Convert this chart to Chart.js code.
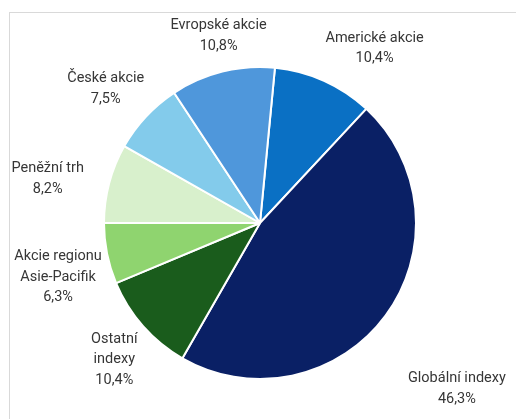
<!DOCTYPE html>
<html>
<head>
<meta charset="utf-8">
<script src="https://cdn.jsdelivr.net/npm/chart.js@4/dist/chart.umd.min.js"></script>
<style>
  body { margin: 0; background: #ffffff; }
  #wrap { position: relative; width: 516px; height: 419px; }
  #frame {
    position: absolute; left: 9px; top: 12px; right: 0; bottom: 0;
    border-left: 1px solid #d9d9d9; border-top: 1px solid #d9d9d9;
  }
  #pie { position: absolute; left: 0; top: 0; }
</style>
</head>
<body>
<div id="wrap">
  <div id="frame"></div>
  <canvas id="pie" width="516" height="419"></canvas>
</div>
<script>
// categories (clockwise from the top)
var categories = [
  ["Americké akcie"],
  ["Globální indexy"],
  ["Ostatní", "indexy"],
  ["Akcie regionu", "Asie-Pacifik"],
  ["Peněžní trh"],
  ["České akcie"],
  ["Evropské akcie"]
];
// share in %
var shares = [10.4, 46.3, 10.4, 6.3, 8.2, 7.5, 10.8];
var sliceColors = ["#0a70c4", "#0a2065", "#1a5c1c", "#8fd46f", "#d8f0cc", "#83cbeb", "#4f97db"];

// label placement tweaks (excel style callouts), angle shift in deg and radius factor
var labelShift = [9, 3.7, -1.7, -3.6, -3.1, -2.1, 1.5];
var labelDist = [1.34, 1.65, 1.28, 1.34, 1.39, 1.31, 1.23];

var outsideLabels = {
  id: "outsideLabels",
  afterDatasetsDraw: function(chart) {
    var ctx = chart.ctx;
    var meta = chart.getDatasetMeta(0);
    ctx.save();
    ctx.font = "14.5px Roboto";
    ctx.fillStyle = "#363636";
    ctx.textAlign = "center";
    ctx.textBaseline = "middle";
    meta.data.forEach(function(arc, i) {
      var p = arc.getProps(["x", "y", "startAngle", "endAngle", "outerRadius"], true);
      var mid = (p.startAngle + p.endAngle) / 2 + labelShift[i] * Math.PI / 180;
      var r = p.outerRadius * labelDist[i];
      var cx = p.x + Math.cos(mid) * r;
      var cy = p.y + Math.sin(mid) * r;
      var lines = categories[i].concat([shares[i].toFixed(1).replace(".", ",") + "%"]);
      var lh = 20.5;
      var top = cy - (lines.length - 1) * lh / 2;
      for (var k = 0; k < lines.length; k++) {
        ctx.fillText(lines[k], cx, top + k * lh);
      }
    });
    ctx.restore();
  }
};

var chart = new Chart(document.getElementById("pie"), {
  type: "pie",
  data: {
    labels: categories,
    datasets: [{
      data: shares,
      backgroundColor: sliceColors,
      borderColor: "#ffffff",
      borderWidth: 2
    }]
  },
  options: {
    responsive: false,
    animation: false,
    rotation: 5.5,
    layout: { padding: { left: 103, right: 99, top: 66, bottom: 39 } },
    plugins: {
      legend: { display: false },
      tooltip: { enabled: false }
    }
  },
  plugins: [outsideLabels]
});
</script>
</body>
</html>
